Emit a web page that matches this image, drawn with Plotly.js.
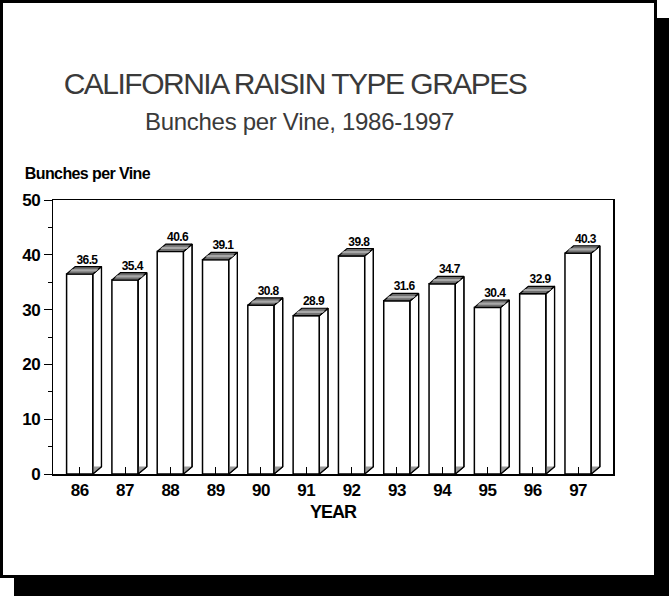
<!DOCTYPE html>
<html>
<head>
<meta charset="utf-8">
<script src="https://cdn.plot.ly/plotly-3.0.1.min.js"></script>
<style>
  html, body { margin: 0; padding: 0; background: #ffffff; }
  #wrap { position: relative; width: 669px; height: 596px; overflow: hidden; }
  #shadow { position: absolute; left: 14px; top: 18px; width: 655px; height: 578px; background: #000; }
  #panel { position: absolute; left: 0; top: 0; width: 657px; height: 578px; box-sizing: border-box;
           border: 3px solid #000; background: #fff; }
  #chart { position: absolute; left: 0; top: 0; width: 669px; height: 596px; }
  .gtitle { letter-spacing: -1.5px; }
  .annotation[data-index="0"] text { letter-spacing: -0.6px; }
  .annotation[data-index="1"] text { letter-spacing: -0.3px; }
  .xtick text { letter-spacing: -0.5px; }
  .ytick text { letter-spacing: -0.5px; }
  .xtitle { letter-spacing: -1px; }
  .textpoint text { letter-spacing: -0.6px; }
</style>
</head>
<body>
<div id="wrap">
  <div id="shadow"></div>
  <div id="panel"></div>
  <div id="chart"></div>
</div>
<script>
// ---- data ----
const years = ['86', '87', '88', '89', '90', '91', '92', '93', '94', '95', '96', '97'];
const bunches = [36.5, 35.4, 40.6, 39.1, 30.8, 28.9, 39.8, 31.6, 34.7, 30.4, 32.9, 40.3];
const yTicks = [0, 10, 20, 30, 40, 50];

// ---- 3D bar geometry (style constants, in axis units) ----
const BAR_W = 0.58, DX = 0.19, DY = 1.35;
const idx = years.map((_, i) => i);

const sideFace = { x: [], y: [] }, topFace = { x: [], y: [] }, stripeFace = { x: [], y: [] }, triFace = { x: [], y: [] };
bunches.forEach((v, i) => {
  const xl = i - BAR_W / 2, xr = i + BAR_W / 2;
  sideFace.x.push(xr, xr + DX, xr + DX, xr, xr, null);
  sideFace.y.push(0, DY, v + DY, v, 0, null);
  triFace.x.push(xr, xr + DX, xr, xr, null);
  triFace.y.push(0, DY, DY, 0, null);
  topFace.x.push(xl, xr, xr + DX, xl + DX, xl, null);
  topFace.y.push(v, v, v + DY, v + DY, v, null);
  const t1 = 0.35, t2 = 0.65;
  stripeFace.x.push(xl + t1 * DX, xr + t1 * DX, xr + t2 * DX, xl + t2 * DX, xl + t1 * DX, null);
  stripeFace.y.push(v + t1 * DY, v + t1 * DY, v + t2 * DY, v + t2 * DY, v + t1 * DY, null);
});

const FONT = 'Liberation Sans, Arial, sans-serif';

const traces = [
  { type: 'bar', x: idx, y: bunches, width: BAR_W, hoverinfo: 'skip',
    marker: { color: '#ffffff', line: { color: '#000', width: 1.5 } } },
  { type: 'scatter', mode: 'lines', x: sideFace.x, y: sideFace.y, fill: 'toself', fillcolor: '#ffffff',
    line: { color: '#000', width: 1.2 }, hoverinfo: 'skip', connectgaps: false },
  { type: 'scatter', mode: 'lines', x: triFace.x, y: triFace.y, fill: 'toself', fillcolor: '#9a9a9a',
    line: { color: 'rgba(0,0,0,0)', width: 0 }, hoverinfo: 'skip', connectgaps: false },
  { type: 'scatter', mode: 'lines', x: sideFace.x, y: sideFace.y,
    line: { color: '#000', width: 1.2 }, hoverinfo: 'skip', connectgaps: false },
  { type: 'scatter', mode: 'lines', x: topFace.x, y: topFace.y, fill: 'toself', fillcolor: '#707070',
    line: { color: '#000', width: 1.2 }, hoverinfo: 'skip', connectgaps: false },
  { type: 'scatter', mode: 'lines', x: stripeFace.x, y: stripeFace.y, fill: 'toself', fillcolor: '#a8a8a8',
    line: { color: 'rgba(0,0,0,0)', width: 0 }, hoverinfo: 'skip', connectgaps: false },
  { type: 'scatter', mode: 'text', x: idx.map(i => i + 0.16), y: bunches.map(v => v + DY),
    text: bunches.map(v => v.toFixed(1)), textposition: 'top center', hoverinfo: 'skip',
    textfont: { family: FONT, size: 12, color: '#000', weight: 'bold' } }
];

const layout = {
  width: 669, height: 596,
  margin: { l: 53, r: 56, t: 200, b: 122 },
  paper_bgcolor: 'rgba(0,0,0,0)', plot_bgcolor: 'rgba(0,0,0,0)',
  showlegend: false,
  font: { family: FONT, color: '#000' },
  title: { text: 'CALIFORNIA RAISIN TYPE GRAPES', x: 295 / 669, xanchor: 'center',
           xref: 'container', yref: 'container', y: 1 - 83 / 596, yanchor: 'middle',
           font: { family: FONT, size: 30, color: '#3a3a3a' } },
  xaxis: {
    range: [-0.59, 11.77], tickvals: idx, ticktext: years,
    ticks: 'inside', ticklen: 7, tickwidth: 1, tickcolor: '#000',
    showline: true, linecolor: '#000', linewidth: 1.5, mirror: true,
    showgrid: false, zeroline: false, fixedrange: true,
    tickfont: { family: FONT, size: 17, color: '#000', weight: 'bold' },
    title: { text: 'YEAR', standoff: 6, font: { family: FONT, size: 18, color: '#000', weight: 'bold' } }
  },
  yaxis: {
    range: [0, 50], tickvals: yTicks, ticktext: yTicks.map(String),
    ticks: 'outside', ticklen: 8, tickwidth: 1, tickcolor: '#000',
    minor: { dtick: 5, ticklen: 4, tickwidth: 1, tickcolor: '#000', ticks: 'outside' },
    showline: true, linecolor: '#000', linewidth: 1.5, mirror: true,
    showgrid: false, zeroline: false, fixedrange: true,
    tickfont: { family: FONT, size: 17, color: '#000', weight: 'bold' }
  },
  annotations: [
    { text: 'Bunches per Vine', xref: 'paper', yref: 'paper',
      x: (18 - 53) / 560, xanchor: 'left', y: (474 - 173.5) / 274, yanchor: 'middle',
      showarrow: false, font: { family: FONT, size: 16, color: '#000', weight: 'bold' } },
    { text: 'Bunches per Vine, 1986-1997', xref: 'paper', yref: 'paper',
      x: (299 - 53) / 560, xanchor: 'center', y: (474 - 121) / 274, yanchor: 'middle',
      showarrow: false, font: { family: FONT, size: 24, color: '#3a3a3a' } }
  ]
};

Plotly.newPlot('chart', traces, layout, { displayModeBar: false, staticPlot: true });
</script>
</body>
</html>
